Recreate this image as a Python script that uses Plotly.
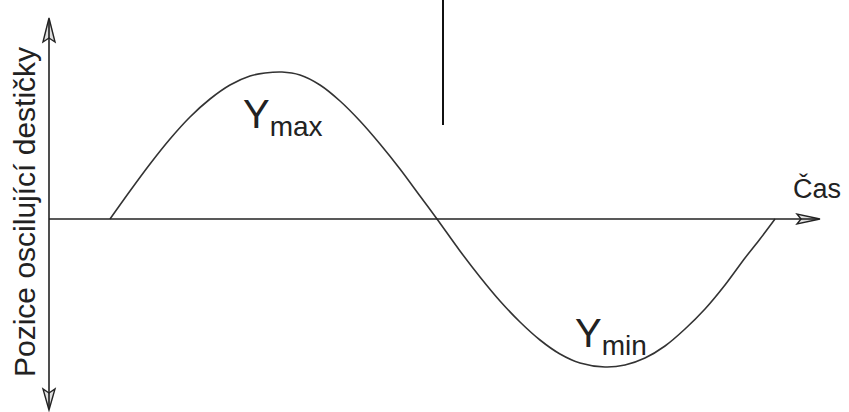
import plotly.graph_objects as go

# --- data (time vs. position of the oscillating plate) ---
cas = [110, 130, 150, 170, 190, 210, 230, 250, 265, 282, 300, 320, 340, 360, 380,
       400, 420, 437, 460, 480, 500, 520, 540, 560, 580, 605, 625, 645, 665, 685,
       705, 725, 745, 760, 775]
pozice = [0, 28, 55, 80, 102, 120, 134, 143, 146, 147, 144, 134, 118, 98, 75,
          50, 23, 0, -32, -58, -82, -103, -121, -135, -144, -148, -146, -139, -127, -110,
          -90, -66, -39, -20, 0]

label_max = "Y<sub>max</sub>"
label_min = "Y<sub>min</sub>"
label_x = "Čas"
label_y = "Pozice oscilující destičky"

FONT = "Liberation Sans, Arial, Helvetica, sans-serif"
INK = "#222222"

fig = go.Figure()
fig.add_trace(go.Scatter(x=cas, y=pozice, mode="lines",
                         line=dict(color="#333333", width=1.6, shape="spline", smoothing=0.8),
                         hoverinfo="skip", showlegend=False))

shapes = []
# horizontal time axis
shapes.append(dict(type="line", x0=49, y0=0, x1=818, y1=0, line=dict(color=INK, width=1.6)))
shapes.append(dict(type="path", path="M 820,0 L 797,5 L 801,0 L 797,-5 Z",
                   line=dict(color=INK, width=1.4), fillcolor="rgba(0,0,0,0.12)"))
# vertical position axis
shapes.append(dict(type="line", x0=49, y0=199, x1=49, y1=-189, line=dict(color=INK, width=1.6)))
shapes.append(dict(type="path", path="M 49,201 L 43,177 L 49,181 L 55,177 Z",
                   line=dict(color=INK, width=1.4), fillcolor="rgba(0,0,0,0.12)"))
shapes.append(dict(type="path", path="M 49,-191 L 43,-170 L 49,-174 L 55,-170 Z",
                   line=dict(color=INK, width=1.4), fillcolor="rgba(0,0,0,0.12)"))
# vertical marker line at the top
shapes.append(dict(type="line", x0=443, y0=219, x1=443, y1=94, line=dict(color="#111111", width=2)))

annotations = [
    dict(x=283, y=102, xref="x", yref="y", text=label_max, showarrow=False,
         font=dict(family=FONT, size=40, color=INK), xanchor="center", yanchor="middle"),
    dict(x=611, y=-117, xref="x", yref="y", text=label_min, showarrow=False,
         font=dict(family=FONT, size=40, color=INK), xanchor="center", yanchor="middle"),
    dict(x=817, y=31, xref="x", yref="y", text=label_x, showarrow=False,
         font=dict(family=FONT, size=27, color=INK), xanchor="center", yanchor="middle"),
    dict(x=24, y=7, xref="x", yref="y", text=label_y, showarrow=False, textangle=-90,
         font=dict(family=FONT, size=30, color=INK), xanchor="center", yanchor="middle"),
]

fig.update_layout(
    width=849, height=412,
    margin=dict(l=0, r=0, t=0, b=0),
    paper_bgcolor="white", plot_bgcolor="white",
    xaxis=dict(range=[0, 849], visible=False, fixedrange=True),
    yaxis=dict(range=[-193, 219], visible=False, fixedrange=True),
    shapes=shapes, annotations=annotations,
    showlegend=False,
)

fig.write_html("out.html", config={"displayModeBar": False},
               post_script="document.body.style.margin='0';document.body.style.overflow='hidden';")
